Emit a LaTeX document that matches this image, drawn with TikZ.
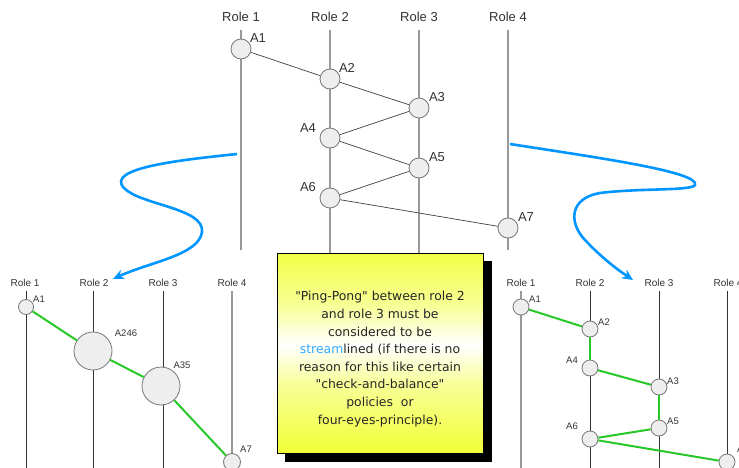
\documentclass[tikz,border=0pt]{standalone}
\usepackage{fontspec}
\setmainfont{Liberation Sans}
\newfontfamily\notefont{DejaVu Sans}
\usetikzlibrary{arrows.meta}
\definecolor{roleg}{HTML}{999999}
\definecolor{circfill}{HTML}{EEEEEE}
\definecolor{circdraw}{HTML}{777777}
\definecolor{flowblue}{RGB}{0,150,255}
\definecolor{greenl}{RGB}{40,200,40}
\definecolor{noteyel}{RGB}{238,255,20}
\definecolor{streamblue}{RGB}{50,170,255}
\pgfdeclareverticalshading{notefade}{100bp}{%
  color(0bp)=(noteyel); color(22bp)=(noteyel!92!white); color(42bp)=(noteyel!45!white);
  color(52bp)=(white); color(62bp)=(noteyel!45!white); color(80bp)=(noteyel!92!white);
  color(100bp)=(noteyel)}
\tikzset{
  roleline/.style={draw=roleg,line width=1.2pt},
  darkline/.style={draw=black!80,line width=0.9pt},
  act/.style={circle,fill=circfill,draw=circdraw,line width=0.8pt,inner sep=0pt,minimum size=#1},
  act/.default=20pt,
  rolelab/.style={font=\fontsize{13}{13}\selectfont,text=black!80},
  actlab/.style={font=\fontsize{13}{13}\selectfont,text=black!80},
  srolelab/.style={font=\fontsize{10}{10}\selectfont,text=black!80},
  sactlab/.style={font=\fontsize{9.5}{9.5}\selectfont,text=black!80},
  flow/.style={draw=black!75,line width=0.7pt},
  gflow/.style={draw=greenl,line width=2pt},
  bluearrow/.style={draw=flowblue,line width=2.6pt,-{Stealth[length=11pt,width=10pt]}}
}
\begin{document}
\begin{tikzpicture}[x=1pt,y=-1pt]
\useasboundingbox (0,0) rectangle (739,468);
\fill[white] (0,0) rectangle (739,468);

% ---------- top diagram ----------
\node[rolelab] (r1) at (241,17) {Role 1};
\node[rolelab] (r2) at (330,17) {Role 2};
\node[rolelab] (r3) at (419,17) {Role 3};
\node[rolelab] (r4) at (508,17) {Role 4};
\coordinate (r1t) at (241,30); \coordinate (r1b) at (241,250);
\coordinate (r2t) at (330,30); \coordinate (r2b) at (330,254);
\coordinate (r3t) at (419,30); \coordinate (r3b) at (419,254);
\coordinate (r4t) at (508,30); \coordinate (r4b) at (508,250);
\draw[roleline] (r1t) -- (r1b);
\draw[roleline] (r2t) -- (r2b);
\draw[roleline] (r3t) -- (r3b);
\draw[roleline] (r4t) -- (r4b);

\node[act] (a1) at (241,49) {};
\node[act] (a2) at (330,79) {};
\node[act] (a3) at (419,108) {};
\node[act] (a4) at (330,138) {};
\node[act] (a5) at (419,168) {};
\node[act] (a6) at (330,198) {};
\node[act] (a7) at (508,228) {};
\draw[flow] (a1) -- (a2);
\draw[flow] (a2) -- (a3);
\draw[flow] (a3) -- (a4);
\draw[flow] (a4) -- (a5);
\draw[flow] (a5) -- (a6);
\draw[flow] (a6) -- (a7);
\node[actlab] (l1) at (258,38) {A1};
\node[actlab] (l2) at (347,68) {A2};
\node[actlab] (l3) at (437,97) {A3};
\node[actlab] (l4) at (308,128) {A4};
\node[actlab] (l5) at (437,157) {A5};
\node[actlab] (l6) at (308,187) {A6};
\node[actlab] (l7) at (526,217) {A7};

% ---------- bottom-left diagram ----------
\node[srolelab] (lr1) at (25,283) {Role 1};
\node[srolelab] (lr2) at (94,283) {Role 2};
\node[srolelab] (lr3) at (163,283) {Role 3};
\node[srolelab] (lr4) at (232,283) {Role 4};
\coordinate (lr1t) at (26,291); \coordinate (lr1b) at (26,468);
\coordinate (lr2t) at (93,291); \coordinate (lr2b) at (93,468);
\coordinate (lr3t) at (163,291); \coordinate (lr3b) at (163,468);
\coordinate (lr4t) at (232,291); \coordinate (lr4b) at (232,468);
\draw[darkline] (lr1t) -- (lr1b);
\draw[darkline] (lr2t) -- (lr2b);
\draw[darkline] (lr3t) -- (lr3b);
\draw[roleline] (lr4t) -- (lr4b);
\node[act=15pt] (b1) at (26,307) {};
\node[act=38pt] (b246) at (93,351) {};
\node[act=38pt] (b35) at (161,386) {};
\node[act=17pt] (b7) at (232,462) {};
\draw[gflow] (b1) -- (b246);
\draw[gflow] (b246) -- (b35);
\draw[gflow] (b35) -- (b7);
\node[sactlab] (bl1) at (39,299) {A1};
\node[sactlab] (bl246) at (126,333) {A246};
\node[sactlab] (bl35) at (182,365) {A35};
\node[sactlab] (bl7) at (246,449) {A7};

% ---------- bottom-right diagram ----------
\node[srolelab] (rr1) at (521,283) {Role 1};
\node[srolelab] (rr2) at (590,283) {Role 2};
\node[srolelab] (rr3) at (659,283) {Role 3};
\node[srolelab] (rr4) at (728,283) {Role 4};
\coordinate (rr1t) at (521,291); \coordinate (rr1b) at (521,468);
\coordinate (rr2t) at (590,291); \coordinate (rr2b) at (590,468);
\coordinate (rr3t) at (659,291); \coordinate (rr3b) at (659,468);
\coordinate (rr4t) at (727,291); \coordinate (rr4b) at (727,468);
\draw[roleline] (rr1t) -- (rr1b);
\draw[darkline] (rr2t) -- (rr2b);
\draw[darkline] (rr3t) -- (rr3b);
\draw[darkline] (rr4t) -- (rr4b);
\node[act=16pt] (c1) at (521,307) {};
\node[act=16pt] (c2) at (590,329) {};
\node[act=16pt] (c4) at (590,368) {};
\node[act=16pt] (c3) at (659,387) {};
\node[act=16pt] (c5) at (659,428) {};
\node[act=16pt] (c6) at (590,439) {};
\node[act=16pt] (c7) at (727,462) {};
\draw[gflow] (c1) -- (c2);
\draw[gflow] (c2) -- (c4);
\draw[gflow] (c4) -- (c3);
\draw[gflow] (c3) -- (c5);
\draw[gflow] (c5) -- (c6);
\draw[gflow] (c6) -- (c7);
\node[sactlab] (cl1) at (535,299) {A1};
\node[sactlab] (cl2) at (604,322) {A2};
\node[sactlab] (cl4) at (572,360) {A4};
\node[sactlab] (cl3) at (673,381) {A3};
\node[sactlab] (cl5) at (673,421) {A5};
\node[sactlab] (cl6) at (572,426) {A6};
\node[sactlab] (cl7) at (743,449) {A7};

% ---------- blue arrows ----------
\coordinate (ls) at (237,154);
\coordinate (le) at (113,279);
\draw[bluearrow] (ls) .. controls (180,160) and (105,168) .. (124,188)
  .. controls (140,205) and (205,208) .. (202,232)
  .. controls (199,255) and (150,262) .. (le);
\coordinate (rs) at (510,144);
\coordinate (re) at (633,280);
\draw[bluearrow] (rs) .. controls (600,158) and (700,172) .. (695,185)
  .. controls (692,191) and (640,188) .. (600,193)
  .. controls (570,198) and (568,222) .. (585,240)
  .. controls (600,256) and (615,268) .. (re);

% ---------- note box ----------
\fill[black] (285,261) rectangle (492,462);
\shade[shading=notefade] (277,253) rectangle (483,453);
\draw[black,line width=0.8pt] (277,253) rectangle (483,453);
\node[font=\notefont\fontsize{12.4}{17.6}\selectfont,align=center,text=black!85] (note) at (380,359)
{"Ping-Pong" between role 2\\ and role 3 must be\\ considered to be\\ \textcolor{streamblue}{stream}lined (if there is no\\ reason for this like certain\\ "check-and-balance"\\ policies\ \ or\\ four-eyes-principle).};
\end{tikzpicture}
\end{document}
